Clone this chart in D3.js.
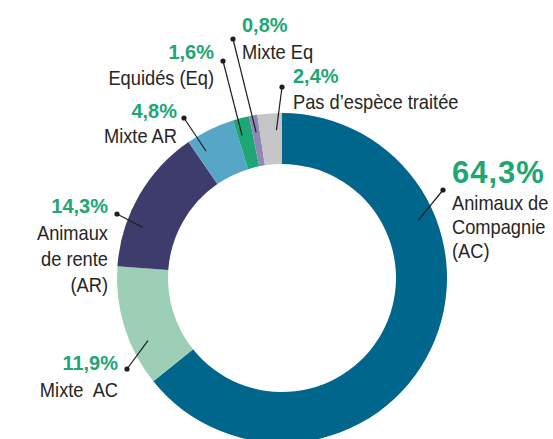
<!DOCTYPE html>
<html>
<head>
<meta charset="utf-8">
<script src="https://cdn.jsdelivr.net/npm/d3@7"></script>
<style>
  body { margin: 0; background: #fff; }
  svg { display: block; }
  .lbl { font-family: "Liberation Sans", Arial, sans-serif; font-size: 21px; fill: #262626; white-space: pre; }
  .pct { font-family: "Liberation Sans", Arial, sans-serif; font-weight: bold; font-size: 20px; fill: #1ea673; }
</style>
</head>
<body>
<svg id="chart"></svg>
<script>
// répartition des vétérinaires par espèce traitée

const categories = ["Animaux de Compagnie (AC)", "Mixte AC", "Animaux de rente (AR)", "Mixte AR", "Equidés (Eq)", "Mixte Eq", "Pas d’espèce traitée"];
const shares = [64.3, 11.9, 14.3, 4.8, 1.6, 0.8, 2.4];
// texte affiché, découpé en lignes
const labelLines = [
  ["Animaux de", "Compagnie", "(AC)"],
  ["Mixte  AC"],
  ["Animaux", "de rente", "(AR)"],
  ["Mixte AR"],
  ["Equidés (Eq)"],
  ["Mixte Eq"],
  ["Pas d’espèce traitée"]
];

const colors = ["#00668c", "#9ccfb6", "#3d3c6d", "#56a6c7", "#1fa677", "#8d88b4", "#c6c6c8"];

let width = 553, height = 439;
let cx = 282, cy = 278, outerR = 165, innerR = 114;
let narrow = 0.87; // police condensée simulée

// placement des étiquettes (x, y du pourcentage, point du trait, position du trait dans la part)
const layout = [
  {x: 452, y: 183, anchor: "start", big: true, lines: [210, 234, 258], dot: [443, 190], t: 0.29},
  {x: 118, y: 370, anchor: "end", lines: [397], dot: [127, 369], t: 0.32},
  {x: 108, y: 213, anchor: "end", lines: [240, 266, 292], dot: [117, 214], t: 0.31},
  {x: 177, y: 118, anchor: "end", lines: [143], dot: [184, 118], t: 0.21},
  {x: 214, y: 59, anchor: "end", lines: [85], dot: [223, 61], t: 0.28},
  {x: 242, y: 32, anchor: "start", lines: [59], dot: [233, 39], t: 0.5},
  {x: 293, y: 83, anchor: "start", lines: [109], dot: [282, 87], t: 0.75}
];

const fr = d3.formatLocale({decimal: ",", thousands: " ", grouping: [3], currency: ["", " €"]});
const fmt = fr.format(".1f");

let svg = d3.select("#chart").attr("width", width).attr("height", height);

let pie = d3.pie().sort(null).value(d => d);
let arcs = pie(shares);
let arc = d3.arc().innerRadius(innerR).outerRadius(outerR);

let g = svg.append("g").attr("transform", `translate(${cx},${cy})`);

g.selectAll("path")
  .data(arcs)
  .enter()
  .append("path")
  .attr("d", arc)
  .attr("fill", (d, i) => colors[i]);

// traits de rappel
let leaderR = 148;
let leaders = svg.append("g");
arcs.forEach((a, i) => {
  let L = layout[i];
  let ang = a.startAngle + (a.endAngle - a.startAngle) * L.t;
  let ex = cx + leaderR * Math.sin(ang);
  let ey = cy - leaderR * Math.cos(ang);
  leaders.append("line")
    .attr("x1", L.dot[0]).attr("y1", L.dot[1])
    .attr("x2", ex).attr("y2", ey)
    .attr("stroke", "#1e1e1e").attr("stroke-width", 1.2);
  leaders.append("circle")
    .attr("cx", L.dot[0]).attr("cy", L.dot[1]).attr("r", 2.6)
    .attr("fill", "#1e1e1e");
});

let labels = svg.append("g");
shares.forEach((v, i) => {
  let L = layout[i];
  labels.append("text")
    .attr("class", "pct")
    .attr("x", L.x).attr("y", L.y)
    .attr("text-anchor", L.anchor)
    .style("font-size", L.big ? "31px" : null)
    .style("letter-spacing", L.big ? "1px" : null)
    .text(fmt(v) + "%");
  labelLines[i].forEach((line, j) => {
    labels.append("g")
      .attr("transform", `translate(${L.x},${L.lines[j]}) scale(${narrow},1)`)
      .append("text")
      .attr("class", "lbl")
      .attr("text-anchor", L.anchor)
      .text(line);
  });
});
</script>
</body>
</html>
